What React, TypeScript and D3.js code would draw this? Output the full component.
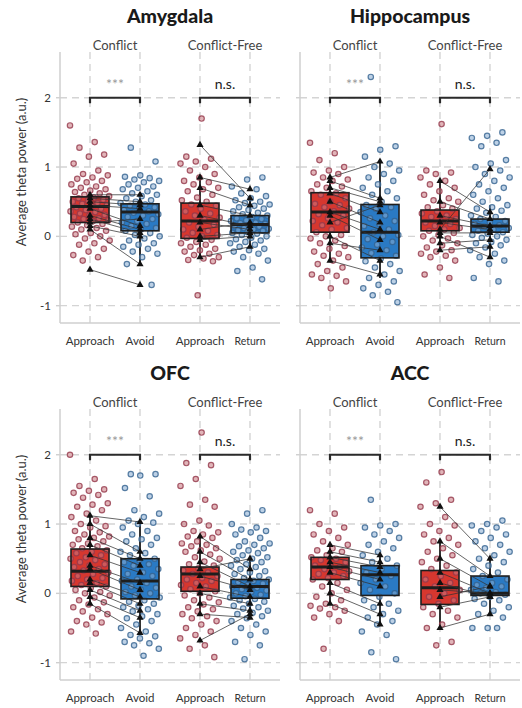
import React from 'react';
import * as d3 from 'd3';

const regions = ['Amygdala', 'Hippocampus', 'OFC', 'ACC'];
const facets = ['Conflict', 'Conflict-Free'];
const conflictConds = ['Approach', 'Avoid'];
const freeConds = ['Approach', 'Return'];
const sigLabels = ['***', 'n.s.'];
const yTicks = [-1, 0, 1, 2];

// trial-level values (circles)
const amyConflictApproach = [1.6, 1.36, 1.28, 1.18, 1.15, 1.05, 0.95, 0.9, 0.88, 0.85, 0.83, 0.8, 0.78, 0.75, 0.72, 0.7, 0.68, 0.66, 0.64, 0.62, 0.6, 0.58, 0.56, 0.55, 0.53, 0.52, 0.5, 0.48, 0.47, 0.45, 0.44, 0.42, 0.4, 0.38, 0.36, 0.35, 0.33, 0.31, 0.3, 0.28, 0.26, 0.25, 0.23, 0.22, 0.2, 0.18, 0.16, 0.14, 0.12, 0.1, 0.08, 0.05, 0.03, 0.0, -0.03, -0.06, -0.1, -0.12, -0.18, -0.22, -0.27, -0.3, -0.35];
const amyConflictAvoid = [1.28, 1.08, 0.88, 0.86, 0.84, 0.82, 0.8, 0.78, 0.75, 0.72, 0.7, 0.68, 0.65, 0.62, 0.6, 0.58, 0.55, 0.52, 0.5, 0.48, 0.46, 0.44, 0.42, 0.4, 0.38, 0.36, 0.34, 0.32, 0.3, 0.28, 0.25, 0.22, 0.2, 0.18, 0.15, 0.12, 0.1, 0.08, 0.05, 0.02, 0.0, -0.03, -0.06, -0.1, -0.12, -0.15, -0.18, -0.22, -0.25, -0.3, -0.4, -0.7];
const amyFreeApproach = [1.7, 1.15, 1.12, 1.08, 1.05, 1.0, 0.95, 0.9, 0.85, 0.8, 0.78, 0.75, 0.7, 0.68, 0.65, 0.6, 0.56, 0.52, 0.5, 0.46, 0.44, 0.4, 0.36, 0.33, 0.3, 0.27, 0.24, 0.2, 0.17, 0.14, 0.1, 0.08, 0.05, 0.02, 0.0, -0.02, -0.05, -0.08, -0.1, -0.12, -0.15, -0.18, -0.2, -0.22, -0.25, -0.27, -0.3, -0.32, -0.34, -0.36, -0.85];
const amyFreeReturn = [0.85, 0.82, 0.72, 0.68, 0.62, 0.58, 0.55, 0.52, 0.5, 0.48, 0.46, 0.44, 0.42, 0.4, 0.38, 0.36, 0.34, 0.32, 0.3, 0.28, 0.26, 0.25, 0.23, 0.22, 0.2, 0.19, 0.18, 0.16, 0.15, 0.14, 0.12, 0.11, 0.1, 0.09, 0.08, 0.06, 0.05, 0.04, 0.02, 0.0, -0.02, -0.04, -0.06, -0.08, -0.1, -0.12, -0.15, -0.18, -0.2, -0.22, -0.25, -0.3, -0.35, -0.45, -0.5, -0.62];

const hipConflictApproach = [1.35, 1.2, 1.1, 1.0, 0.95, 0.92, 0.9, 0.85, 0.82, 0.8, 0.75, 0.72, 0.7, 0.65, 0.62, 0.6, 0.55, 0.5, 0.47, 0.45, 0.42, 0.4, 0.36, 0.32, 0.3, 0.26, 0.22, 0.2, 0.16, 0.12, 0.1, 0.06, 0.02, 0.0, -0.03, -0.06, -0.1, -0.14, -0.18, -0.22, -0.25, -0.28, -0.3, -0.35, -0.4, -0.45, -0.5, -0.55, -0.57, -0.6, -0.65, -0.75];
const hipConflictAvoid = [2.3, 1.3, 1.25, 1.15, 1.05, 1.0, 0.95, 0.9, 0.85, 0.8, 0.75, 0.7, 0.65, 0.6, 0.55, 0.5, 0.45, 0.42, 0.4, 0.35, 0.3, 0.26, 0.22, 0.18, 0.15, 0.1, 0.06, 0.02, 0.0, -0.04, -0.08, -0.12, -0.16, -0.2, -0.24, -0.28, -0.32, -0.36, -0.4, -0.45, -0.5, -0.55, -0.6, -0.65, -0.7, -0.75, -0.8, -0.85, -0.95];
const hipFreeApproach = [1.62, 0.95, 0.92, 0.9, 0.85, 0.8, 0.75, 0.7, 0.65, 0.6, 0.55, 0.52, 0.5, 0.45, 0.42, 0.4, 0.36, 0.33, 0.3, 0.28, 0.25, 0.22, 0.2, 0.18, 0.15, 0.12, 0.1, 0.08, 0.05, 0.02, 0.0, -0.03, -0.06, -0.1, -0.13, -0.16, -0.2, -0.22, -0.25, -0.28, -0.3, -0.35, -0.45, -0.55, -0.6];
const hipFreeReturn = [1.5, 1.45, 1.42, 1.35, 1.3, 1.1, 1.05, 1.0, 0.95, 0.9, 0.85, 0.8, 0.75, 0.7, 0.65, 0.6, 0.55, 0.5, 0.45, 0.42, 0.4, 0.37, 0.34, 0.3, 0.28, 0.25, 0.22, 0.2, 0.18, 0.16, 0.14, 0.12, 0.1, 0.08, 0.06, 0.04, 0.02, 0.0, -0.02, -0.05, -0.08, -0.1, -0.13, -0.16, -0.2, -0.25, -0.3, -0.35, -0.4, -0.6, -0.65];

const ofcConflictApproach = [2.0, 1.65, 1.55, 1.5, 1.48, 1.45, 1.42, 1.38, 1.3, 1.28, 1.25, 1.2, 1.15, 1.1, 1.05, 1.0, 0.97, 0.95, 0.9, 0.88, 0.85, 0.82, 0.8, 0.78, 0.75, 0.72, 0.7, 0.68, 0.65, 0.62, 0.6, 0.58, 0.55, 0.52, 0.5, 0.48, 0.45, 0.42, 0.4, 0.38, 0.35, 0.33, 0.3, 0.28, 0.25, 0.22, 0.2, 0.18, 0.15, 0.12, 0.1, 0.08, 0.05, 0.02, 0.0, -0.03, -0.06, -0.1, -0.13, -0.16, -0.2, -0.23, -0.26, -0.3, -0.35, -0.4, -0.42, -0.45, -0.55, -0.58];
const ofcConflictAvoid = [1.72, 1.72, 1.7, 1.52, 1.4, 1.2, 1.15, 1.1, 1.05, 1.02, 1.0, 0.95, 0.9, 0.85, 0.8, 0.78, 0.75, 0.7, 0.65, 0.6, 0.58, 0.55, 0.5, 0.48, 0.45, 0.42, 0.4, 0.35, 0.3, 0.28, 0.25, 0.2, 0.18, 0.15, 0.1, 0.08, 0.05, 0.02, 0.0, -0.03, -0.06, -0.1, -0.12, -0.15, -0.18, -0.2, -0.23, -0.26, -0.3, -0.33, -0.36, -0.4, -0.45, -0.5, -0.55, -0.6, -0.62, -0.65, -0.7, -0.72, -0.75, -0.8, -0.9];
const ofcFreeApproach = [2.32, 1.88, 1.85, 1.65, 1.55, 1.35, 1.28, 1.25, 1.05, 1.0, 0.98, 0.9, 0.88, 0.85, 0.82, 0.8, 0.75, 0.72, 0.7, 0.68, 0.65, 0.62, 0.6, 0.56, 0.52, 0.5, 0.46, 0.42, 0.4, 0.36, 0.33, 0.3, 0.28, 0.25, 0.22, 0.2, 0.18, 0.15, 0.12, 0.1, 0.06, 0.03, 0.0, -0.03, -0.06, -0.1, -0.13, -0.16, -0.2, -0.23, -0.26, -0.3, -0.33, -0.36, -0.4, -0.45, -0.5, -0.55, -0.6, -0.65, -0.75, -0.8, -0.92];
const ofcFreeReturn = [1.2, 1.15, 1.0, 0.95, 0.92, 0.9, 0.88, 0.85, 0.8, 0.75, 0.72, 0.7, 0.68, 0.65, 0.62, 0.6, 0.58, 0.55, 0.52, 0.5, 0.48, 0.45, 0.42, 0.4, 0.38, 0.35, 0.32, 0.3, 0.28, 0.25, 0.22, 0.2, 0.18, 0.16, 0.14, 0.12, 0.1, 0.08, 0.06, 0.04, 0.02, 0.0, -0.02, -0.04, -0.06, -0.08, -0.1, -0.12, -0.15, -0.18, -0.2, -0.22, -0.25, -0.28, -0.3, -0.33, -0.36, -0.4, -0.45, -0.5, -0.55, -0.6, -0.7, -0.75, -0.95];

const accConflictApproach = [1.2, 1.15, 1.0, 0.95, 0.9, 0.85, 0.8, 0.75, 0.7, 0.65, 0.62, 0.6, 0.55, 0.52, 0.5, 0.48, 0.45, 0.42, 0.4, 0.38, 0.35, 0.32, 0.3, 0.28, 0.25, 0.22, 0.2, 0.15, 0.1, 0.05, 0.0, -0.05, -0.1, -0.15, -0.18, -0.2, -0.22, -0.25, -0.3, -0.35, -0.4, -0.8];
const accConflictAvoid = [1.35, 1.0, 0.98, 0.95, 0.9, 0.85, 0.8, 0.75, 0.7, 0.65, 0.6, 0.55, 0.5, 0.45, 0.4, 0.35, 0.3, 0.25, 0.2, 0.15, 0.1, 0.05, 0.0, -0.05, -0.1, -0.15, -0.2, -0.25, -0.3, -0.35, -0.4, -0.45, -0.55, -0.6, -0.85, -0.95];
const accFreeApproach = [1.75, 1.6, 1.35, 1.3, 1.25, 1.1, 1.0, 0.98, 0.9, 0.85, 0.8, 0.75, 0.7, 0.65, 0.6, 0.55, 0.5, 0.45, 0.4, 0.35, 0.3, 0.25, 0.2, 0.15, 0.1, 0.05, 0.0, -0.05, -0.1, -0.15, -0.2, -0.25, -0.3, -0.35, -0.45, -0.5, -0.7, -0.75];
const accFreeReturn = [1.05, 1.0, 0.98, 0.95, 0.9, 0.85, 0.8, 0.75, 0.7, 0.65, 0.6, 0.55, 0.5, 0.45, 0.4, 0.35, 0.3, 0.25, 0.2, 0.15, 0.12, 0.1, 0.08, 0.05, 0.02, 0.0, -0.02, -0.05, -0.08, -0.1, -0.15, -0.2, -0.25, -0.3, -0.35, -0.5, -0.5, -0.5];

// box stats [whiskerLo, q1, median, q3, whiskerHi]: conflict approach, avoid, free approach, return
const amyBoxes = [[0.1, 0.2, 0.43, 0.57, 0.62], [-0.4, 0.08, 0.35, 0.47, 0.62], [-0.32, -0.03, 0.22, 0.48, 0.88], [-0.15, 0.05, 0.17, 0.3, 0.55]];
const hipBoxes = [[-0.36, 0.06, 0.35, 0.63, 0.85], [-0.6, -0.31, 0.06, 0.46, 1.1], [-0.21, 0.08, 0.22, 0.38, 0.8], [-0.3, 0.06, 0.15, 0.25, 0.45]];
const ofcBoxes = [[-0.15, 0.1, 0.32, 0.64, 1.12], [-0.57, -0.08, 0.18, 0.5, 1.03], [-0.3, 0.03, 0.28, 0.38, 0.82], [-0.35, -0.07, 0.1, 0.2, 0.5]];
const accBoxes = [[-0.15, 0.2, 0.38, 0.52, 0.7], [-0.45, -0.03, 0.27, 0.4, 0.55], [-0.5, -0.16, 0.08, 0.33, 0.75], [-0.3, -0.03, 0.0, 0.25, 0.5]];

// subject means (triangles) [approach, avoid/return]
const amyConflictPairs = [[0.6, 0.6], [0.55, 0.5], [0.5, 0.45], [0.45, 0.4], [0.4, 0.15], [0.3, 0.1], [0.25, 0.05], [0.2, 0.25], [0.15, 0.0], [0.1, -0.4], [-0.48, -0.7]];
const amyFreePairs = [[1.32, 0.55], [0.85, 0.68], [0.7, 0.45], [0.45, 0.3], [0.3, 0.15], [0.2, 0.1], [0.1, 0.2], [0.0, 0.05], [-0.05, 0.0], [-0.3, -0.15]];
const hipConflictPairs = [[0.85, 1.08], [0.8, 0.55], [0.7, 0.5], [0.62, 0.35], [0.5, 0.2], [0.35, 0.1], [0.3, -0.05], [0.2, 0.45], [0.0, -0.35], [-0.1, -0.2], [-0.35, -0.55]];
const hipFreePairs = [[0.8, 0.35], [0.5, 0.25], [0.3, 0.15], [0.2, 0.1], [0.1, 0.97], [0.05, 0.05], [0.0, -0.3], [-0.1, -0.05], [-0.2, -0.15]];
const ofcConflictPairs = [[1.12, 1.03], [1.0, 0.6], [0.8, 0.5], [0.7, 0.4], [0.55, 0.3], [0.4, 0.15], [0.35, 0.05], [0.2, -0.05], [0.15, -0.15], [0.05, -0.25], [-0.05, -0.35], [-0.15, -0.57]];
const ofcFreePairs = [[0.82, 0.35], [0.6, 0.2], [0.45, 0.1], [0.35, 0.5], [0.25, 0.05], [0.1, -0.05], [0.0, -0.15], [-0.15, -0.25], [-0.3, -0.35], [-0.68, -0.3]];
const accConflictPairs = [[0.7, 0.55], [0.6, 0.45], [0.52, 0.38], [0.45, 0.3], [0.38, 0.2], [0.3, 0.1], [0.15, -0.15], [0.0, -0.3], [-0.15, -0.45]];
const accFreePairs = [[1.25, 0.5], [0.75, 0.25], [0.5, 0.1], [0.3, 0.0], [0.15, -0.05], [0.05, 0.0], [-0.05, 0.1], [-0.2, -0.05], [-0.5, -0.3]];

const panelPoints = [
  [amyConflictApproach, amyConflictAvoid, amyFreeApproach, amyFreeReturn],
  [hipConflictApproach, hipConflictAvoid, hipFreeApproach, hipFreeReturn],
  [ofcConflictApproach, ofcConflictAvoid, ofcFreeApproach, ofcFreeReturn],
  [accConflictApproach, accConflictAvoid, accFreeApproach, accFreeReturn],
];
const panelBoxes = [amyBoxes, hipBoxes, ofcBoxes, accBoxes];
const panelPairs = [
  [amyConflictPairs, amyFreePairs],
  [hipConflictPairs, hipFreePairs],
  [ofcConflictPairs, ofcFreePairs],
  [accConflictPairs, accFreePairs],
];

const font = "Lato, 'Open Sans', 'DejaVu Sans', sans-serif";
const boxFill = ['#d6372f', '#2a7ac4'];
const ptStroke = ['#94374a', '#33628f'];
const ptFill = ['#c87880', '#86acd2'];
const gridColor = '#d4d4d4';

const colX = [60, 300];
const rowY = [0, 357];
const facetW = 110;

const triangle = d3.symbol().type(d3.symbolTriangle).size(22)();

function Panel({ idx }: { idx: number }) {
  const col = idx % 2;
  const row = Math.floor(idx / 2);
  const x0 = colX[col];
  const top = 52 + rowY[row];
  const bottom = 323 + rowY[row];
  const y = d3.scaleLinear().domain([-1.25, 2.66]).range([bottom, top]);
  const xs = [conflictConds, freeConds].map((conds, f) =>
    d3.scalePoint<string>().domain(conds).range([x0 + f * facetW, x0 + (f + 1) * facetW]).padding(0.6)
  );
  const step = xs[0].step();
  const boxW = step * 0.76;

  return (
    <g>
      <text x={x0 + facetW} y={23 + rowY[row]} textAnchor="middle" fontSize={19.5} fontWeight={900} fill="#1a1a1a">
        {regions[idx]}
      </text>
      {/* grid */}
      {yTicks.map(t => (
        <line key={'h' + t} x1={x0} x2={x0 + 2 * facetW} y1={y(t)} y2={y(t)} stroke={gridColor} strokeWidth={1.4} strokeDasharray="7,5" />
      ))}
      {xs.map((sx, f) => sx.domain().map(c => (
        <line key={'v' + f + c} x1={sx(c)} x2={sx(c)} y1={top} y2={bottom} stroke={gridColor} strokeWidth={1.4} strokeDasharray="7,5" />
      )))}
      {/* axes */}
      <line x1={x0} x2={x0} y1={top} y2={bottom} stroke="#cfcfcf" strokeWidth={1.5} />
      <line x1={x0} x2={x0 + 2 * facetW} y1={bottom} y2={bottom} stroke="#cfcfcf" strokeWidth={1.5} />
      {yTicks.map(t => (
        <line key={'t' + t} x1={x0 - 4} x2={x0} y1={y(t)} y2={y(t)} stroke="#cfcfcf" strokeWidth={1.4} />
      ))}
      {col === 0 && yTicks.map(t => (
        <text key={'l' + t} x={x0 - 9} y={y(t)} dy="0.35em" textAnchor="end" fontSize={11.5} fill="#333">{t}</text>
      ))}
      {col === 0 && (
        <text transform={`translate(26,${172 + rowY[row]}) rotate(-90)`} textAnchor="middle" fontSize={13} fill="#333">
          Average theta power (a.u.)
        </text>
      )}
      {xs.map((sx, f) => (
        <g key={'f' + f}>
          <text x={x0 + f * facetW + facetW / 2} y={50 + rowY[row]} textAnchor="middle" fontSize={13} fill="#444">{facets[f]}</text>
          {sx.domain().map(c => (
            <text key={c} x={sx(c)} y={345 + rowY[row]} textAnchor="middle" fontSize={c === 'Return' ? 10.5 : 11.5} fill="#333">{c}</text>
          ))}
          {/* significance bracket */}
          <path
            d={`M${sx(sx.domain()[0])},${y(1.92)}V${y(2)}H${sx(sx.domain()[1])}V${y(1.92)}`}
            fill="none" stroke="#2b2b2b" strokeWidth={2.2}
          />
          <text x={(sx(sx.domain()[0])! + sx(sx.domain()[1])!) / 2} y={y(2) - 9} textAnchor="middle"
            fontSize={14} fill={f === 0 ? '#9a9a9a' : '#222'}>{sigLabels[f]}</text>
        </g>
      ))}
      {/* boxes + whiskers */}
      {xs.map((sx, f) => sx.domain().map((c, k) => {
        const b = panelBoxes[idx][f * 2 + k];
        const cx = sx(c)!;
        return (
          <g key={'b' + f + k}>
            <line x1={cx} x2={cx} y1={y(b[0])} y2={y(b[4])} stroke="#1e1e1e" strokeWidth={1.8} />
            <rect x={cx - boxW / 2} y={y(b[3])} width={boxW} height={y(b[1]) - y(b[3])} fill={boxFill[k]} />
          </g>
        );
      }))}
      {/* trial points */}
      {xs.map((sx, f) => sx.domain().map((c, k) => {
        const vals = panelPoints[idx][f * 2 + k];
        const cx = sx(c)!;
        return (
          <g key={'p' + f + k}>
            {vals.map((v, i) => {
              const u = (i * 0.618034 + 0.27 * (f * 2 + k)) % 1;
              return (
                <circle key={i} cx={cx + (u - 0.5) * step * 0.8} cy={y(v)} r={2.7}
                  fill={ptFill[k]} fillOpacity={0.55} stroke={ptStroke[k]} strokeOpacity={0.8} strokeWidth={1.2} />
              );
            })}
          </g>
        );
      }))}
      {/* box outlines + medians */}
      {xs.map((sx, f) => sx.domain().map((c, k) => {
        const b = panelBoxes[idx][f * 2 + k];
        const cx = sx(c)!;
        return (
          <g key={'o' + f + k}>
            <rect x={cx - boxW / 2} y={y(b[3])} width={boxW} height={y(b[1]) - y(b[3])} fill="none" stroke="#1e1e1e" strokeWidth={1.6} />
            <line x1={cx - boxW / 2} x2={cx + boxW / 2} y1={y(b[2])} y2={y(b[2])} stroke="#1e1e1e" strokeWidth={3} />
          </g>
        );
      }))}
      {/* subject pairs */}
      {xs.map((sx, f) => {
        const [a, b] = sx.domain().map(c => sx(c)!);
        return (
          <g key={'s' + f}>
            {panelPairs[idx][f].map((p, i) => (
              <line key={'ln' + i} x1={a} x2={b} y1={y(p[0])} y2={y(p[1])} stroke="#333" strokeOpacity={0.75} strokeWidth={1} />
            ))}
            {panelPairs[idx][f].map((p, i) => (
              <g key={'tr' + i}>
                <path d={triangle} transform={`translate(${a},${y(p[0])})`} fill="#111" />
                <path d={triangle} transform={`translate(${b},${y(p[1])})`} fill="#111" />
              </g>
            ))}
          </g>
        );
      })}
    </g>
  );
}

export default function App() {
  return (
    <svg width={522} height={708} style={{ position: 'absolute', left: 0, top: 0, background: '#fff' }} fontFamily={font}>
      {regions.map((r, i) => <Panel key={r} idx={i} />)}
    </svg>
  );
}
